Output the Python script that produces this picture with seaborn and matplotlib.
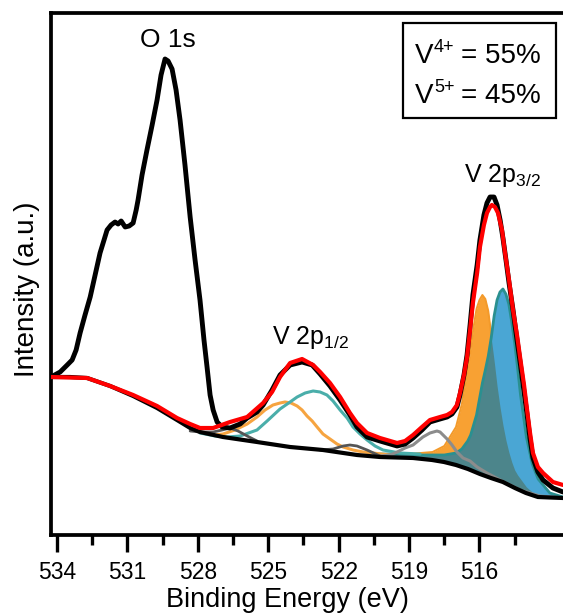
import numpy as np
import pandas as pd
import matplotlib
matplotlib.use("Agg")
import matplotlib.pyplot as plt
import seaborn as sns
from matplotlib.patches import Rectangle

# ---------------- data (binding energy in eV, intensity in a.u.) ----------------
# measured spectrum
exp_ev = [534.26, 533.87, 533.57, 533.36, 533.19, 533.02, 532.81, 532.59, 532.38, 532.17,
          532.00, 531.87, 531.70, 531.53, 531.40, 531.27, 531.10, 530.93, 530.76, 530.63,
          530.55, 530.38, 530.17, 529.95, 529.74, 529.57, 529.40, 529.27, 529.10, 528.93,
          528.76, 528.55, 528.33, 528.12, 527.91, 527.74, 527.61, 527.48, 527.35, 527.18,
          526.97, 526.63, 526.20, 525.90, 525.48, 525.22, 524.84, 524.50, 524.07, 523.56,
          523.13, 522.79, 522.37, 521.94, 521.52, 521.22, 520.79, 520.24, 519.51, 519.17,
          518.83, 518.45, 518.11, 517.68, 517.38, 517.17, 516.96, 516.83, 516.66, 516.53,
          516.40, 516.28, 516.10, 515.98, 515.81, 515.68, 515.55, 515.38, 515.25, 515.12,
          515.00, 514.87, 514.74, 514.57, 514.40, 514.27, 514.10, 513.97, 513.85, 513.72,
          513.51, 513.29, 512.87, 512.44]
exp_int = [158, 163, 170, 175, 185, 202, 220, 238, 260, 282,
           295, 305, 310, 313, 311, 314, 308, 309, 312, 325,
           335, 360, 385, 410, 435, 460, 476, 474, 466, 445,
           415, 370, 318, 275, 235, 195, 168, 140, 125, 113,
           108, 107, 111, 117, 123, 130, 145, 160, 170, 173,
           170, 161, 149, 135, 120, 108, 98, 94, 89, 91,
           97, 105, 113, 116, 118, 121, 128, 140, 160, 180,
           210, 240, 270, 295, 320, 332, 338, 338, 330, 315,
           297, 275, 252, 225, 195, 173, 143, 120, 97, 77,
           63, 55, 47, 43]

# envelope of the fit
fit_ev = [534.26, 532.72, 531.74, 530.76, 529.74, 528.89, 528.33, 527.91, 527.35, 526.63,
          525.90, 525.22, 524.84, 524.50, 524.07, 523.56, 523.09, 522.79, 522.37, 521.94,
          521.52, 521.22, 520.79, 520.24, 519.51, 519.17, 518.83, 518.45, 518.11, 517.68,
          517.38, 517.17, 516.96, 516.83, 516.66, 516.53, 516.40, 516.28, 516.10, 515.98,
          515.81, 515.68, 515.55, 515.47, 515.34, 515.21, 515.04, 514.91, 514.74, 514.57,
          514.40, 514.27, 514.10, 513.97, 513.85, 513.72, 513.51, 513.29, 512.87, 512.44]
fit_int = [158, 157, 149, 140, 129, 117, 111, 107, 107, 113,
           118, 132, 143, 158, 172, 176, 170, 163, 152, 138,
           122, 112, 102, 97, 92, 94, 100, 108, 115, 118,
           120, 123, 130, 142, 160, 178, 205, 232, 262, 288,
           310, 322, 328, 330, 328, 322, 305, 282, 255, 225,
           200, 178, 150, 125, 103, 82, 68, 62, 53, 50]

# Shirley background
bg_ev = [534.26, 533.45, 532.72, 531.74, 530.76, 529.74, 528.89, 528.33, 527.91, 526.93,
         525.48, 524.07, 522.67, 521.22, 520.24, 518.83, 518.02, 517.51, 517.00, 516.49,
         515.98, 515.51, 515.00, 514.49, 514.02, 513.51, 513.00, 512.44]
bg_int = [158, 158, 157, 149, 139, 127, 115, 107, 103, 98,
          93, 88, 85, 80, 78, 77, 75, 73, 70, 66,
          61, 57, 53, 47, 42, 38, 37.5, 37]

# V 2p3/2 components (filled)
p32_ev = [520.5, 520.0, 519.5, 519.0, 518.5, 518.0, 517.5, 517.0, 516.75, 516.5,
          516.375, 516.25, 516.125, 516.0, 515.875, 515.75, 515.625, 515.5, 515.375, 515.25,
          515.125, 515.0, 514.875, 514.75, 514.625, 514.5, 514.375, 514.25, 514.0, 513.75,
          513.5, 513.0, 512.44]
v5_p32 = [80, 80, 81, 81, 82, 83, 89, 108, 131, 166,
          186, 208, 226, 235, 240, 236, 224, 201, 174, 149,
          128, 110, 95, 83, 73, 65, 60, 56, 48, 43,
          40, 38, 37]
v4_p32 = [81, 81, 81, 81, 80, 80, 80, 82, 86, 94,
          100, 110, 120, 136, 152, 165, 179, 197, 219, 235,
          243, 246, 241, 231, 213, 192, 167, 140, 98, 71,
          56, 42, 38]

# satellite under V 2p3/2
sat_ev = [520.24, 519.81, 519.51, 519.17, 518.83, 518.41, 518.11, 517.81, 517.68, 517.38,
          517.17, 516.96, 516.70, 516.40, 516.10, 515.68, 515.12, 514.27, 513.42, 512.44]
sat_int = [79, 80, 83, 87, 90, 98, 102, 104, 103, 96,
           90, 83, 77, 74, 68, 62, 55, 45, 39, 37]

# V 2p1/2 components (lines)
v5_p12_ev = [527.91, 527.27, 526.93, 526.42, 525.90, 525.48, 525.14, 524.80, 524.50, 524.29,
             524.03, 523.77, 523.56, 523.35, 523.13, 522.92, 522.67, 522.37, 522.07, 521.81,
             521.39, 520.96, 520.54, 519.81]
v5_p12 = [103, 100, 101, 105, 111, 118, 125, 130, 132, 133,
          132, 129, 125, 119, 114, 108, 101, 96, 91, 88,
          85, 83, 82, 80]
v4_p12_ev = [527.91, 527.27, 526.76, 526.20, 525.48, 525.05, 524.50, 524.07, 523.77, 523.43,
             523.09, 522.79, 522.50, 522.24, 521.94, 521.64, 521.39, 521.09, 520.79, 520.45,
             520.11, 519.39, 518.53]
v4_p12 = [102, 99, 98, 99, 105, 114, 126, 133, 138, 142,
          144, 143, 140, 134, 125, 117, 108, 101, 95, 89,
          85, 82, 81]

# small satellites
sat1_ev = [528.33, 527.91, 527.35, 526.97, 526.63, 526.29, 525.90, 525.48]
sat1_int = [104, 103, 103, 105, 107, 104, 99, 94]
sat2_ev = [522.79, 522.24, 521.81, 521.52, 521.22, 520.79, 520.24]
sat2_int = [85, 86, 89, 90, 89, 85, 79]

major_ticks = [534, 531, 528, 525, 522, 519, 516]
minor_ticks = [532.5, 529.5, 526.5, 523.5, 520.5, 517.5, 514.5]

ratio_ions = ["4+", "5+"]
ratio_pct = ["55%", "45%"]

# ---------------- style ----------------
sns.set_theme(style="white")
plt.rcParams["font.family"] = ["Liberation Sans", "DejaVu Sans"]
plt.rcParams["mathtext.fontset"] = "custom"
plt.rcParams["mathtext.rm"] = "Liberation Sans"
plt.rcParams["mathtext.it"] = "Liberation Sans:italic"
plt.rcParams["mathtext.bf"] = "Liberation Sans:bold"
plt.rcParams["text.color"] = "black"
plt.rcParams["axes.labelcolor"] = "black"
plt.rcParams["xtick.color"] = "black"
plt.rcParams["ytick.color"] = "black"

C_ORANGE = "#f8a133"
C_BLUE = "#4aa6d4"
C_OVER = "#4c858b"
C_TEAL_EDGE = "#2a9090"
C_TEAL = "#4aaeaa"
C_ORANGE_LINE = "#f6a440"
C_GREY = "#8c8c8c"
C_DGREY = "#555555"

fig = plt.figure(figsize=(5.63, 6.16), dpi=100)
fig.patch.set_facecolor("white")
ax = fig.add_axes([51 / 563, 81 / 616, 512 / 563, 522 / 616])
ax.set_facecolor("white")

# fills for V 2p3/2
x32 = np.array(p32_ev)
bg32 = np.interp(x32[::-1], bg_ev[::-1], bg_int[::-1])[::-1]
a5 = np.array(v5_p32, dtype=float)
a4 = np.array(v4_p32, dtype=float)
ax.fill_between(x32, bg32, a5, color=C_ORANGE, lw=0, zorder=1)
ax.fill_between(x32, bg32, a4, color=C_BLUE, lw=0, zorder=1.1)
ax.fill_between(x32, bg32, np.minimum(a4, a5), color=C_OVER, lw=0, zorder=1.2)


def line(xv, yv, color, lw, z):
    sns.lineplot(x=xv, y=yv, ax=ax, color=color, lw=lw, sort=False,
                 estimator=None, zorder=z, solid_joinstyle="round",
                 solid_capstyle="round")


line(p32_ev, v5_p32, "#f39a2a", 1.4, 1.05)
line(p32_ev, v4_p32, C_TEAL_EDGE, 2.0, 2.1)
line(v5_p12_ev, v5_p12, C_ORANGE_LINE, 2.2, 2.2)
line(v4_p12_ev, v4_p12, C_TEAL, 2.2, 2.3)
line(sat_ev, sat_int, C_GREY, 2.2, 2.4)
line(sat1_ev, sat1_int, C_DGREY, 2.0, 2.4)
line(sat2_ev, sat2_int, C_DGREY, 2.0, 2.4)
line(bg_ev, bg_int, "black", 3.0, 3)
line(exp_ev, exp_int, "black", 3.5, 4)
line(fit_ev, fit_int, "#ff0000", 3.0, 5)

ax.set_xlim(534.26, 512.44)
ax.set_ylim(0, 522)

# axes styling
for side in ["left", "top", "bottom"]:
    ax.spines[side].set_linewidth(2.7)
    ax.spines[side].set_color("black")
ax.spines["right"].set_visible(False)

ax.set_xticks(major_ticks)
ax.set_xticklabels([str(t) for t in major_ticks])
ax.set_xticks(minor_ticks, minor=True)
ax.set_yticks([])
ax.tick_params(axis="x", which="major", direction="out", length=12.5, width=2.4,
               color="black", labelcolor="black", labelsize=16.5, pad=6,
               bottom=True, top=False)
ax.tick_params(axis="x", which="minor", direction="out", length=7, width=2.4,
               color="black", bottom=True, top=False)

ax.set_xlabel("Binding Energy (eV)", fontsize=19.5, color="black")
ax.set_ylabel("Intensity (a.u.)", fontsize=20, color="black")
ax.xaxis.set_label_coords(0.462, -0.100)
ax.yaxis.set_label_coords(-0.022, 0.47)

# peak labels
ax.text(529.27, 495, "O 1s", fontsize=19, ha="center", va="center", color="black")
ax.text(524.84, 191, r"V 2p$_{\mathregular{1/2}}$", fontsize=18, ha="left",
        va="baseline", color="black")
ax.text(516.66, 353, r"V 2p$_{\mathregular{3/2}}$", fontsize=18, ha="left",
        va="baseline", color="black")

# V4+/V5+ ratio box
ax.add_patch(Rectangle(((403 - 51) / 512, (535 - 118) / 522), 153 / 512, 95 / 522,
                       transform=ax.transAxes, fill=True, facecolor="white",
                       edgecolor="black", lw=1.6, zorder=6))
for i, (ion, pct) in enumerate(zip(ratio_ions, ratio_pct)):
    base_px = 63 + 40 * i
    yb = (535 - base_px) / 522
    ax.text((415 - 51) / 512, yb, "V", transform=ax.transAxes, fontsize=20,
            ha="left", va="baseline", zorder=7)
    ax.text((434 - 51) / 512, (535 - base_px + 11) / 522, ion, transform=ax.transAxes,
            fontsize=13, ha="left", va="baseline", zorder=7)
    ax.text((461 - 51) / 512, yb, "= " + pct, transform=ax.transAxes, fontsize=20,
            ha="left", va="baseline", zorder=7)

fig.savefig("out.png", dpi=100, facecolor="white")
